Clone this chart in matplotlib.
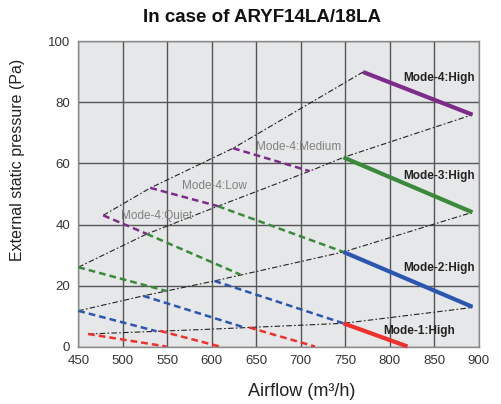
import matplotlib
matplotlib.use("Agg")
import matplotlib.pyplot as plt

plt.rcParams["font.family"] = ["Liberation Sans", "DejaVu Sans"]

# fan curves, (airflow, pressure) end points
mode4_high_q = [770, 893]
mode4_high_p = [90, 76]
mode3_high_q = [748, 893]
mode3_high_p = [62, 44]
mode2_high_q = [748, 893]
mode2_high_p = [31, 13]
mode1_high_q = [748, 820]
mode1_high_p = [7.6, 0]

mode4_quiet_q = [478, 527]
mode4_quiet_p = [43, 36.9]
mode4_low_q = [531, 607]
mode4_low_p = [52, 46]
mode4_medium_q = [624, 710]
mode4_medium_p = [65, 57.5]

mode3_quiet_q = [450, 549]
mode3_quiet_p = [26, 18.2]
mode3_low_q = [527, 632]
mode3_low_p = [36.9, 23.6]
mode3_medium_q = [607, 748]
mode3_medium_p = [46, 31]

mode2_quiet_q = [450, 538]
mode2_quiet_p = [11.7, 5.0]
mode2_low_q = [523, 637]
mode2_low_p = [16.6, 6.2]
mode2_medium_q = [603, 748]
mode2_medium_p = [21.5, 7.6]

mode1_quiet_q = [461, 549]
mode1_quiet_p = [4.1, 0]
mode1_low_q = [542, 609]
mode1_low_p = [5.1, 0]
mode1_medium_q = [642, 716]
mode1_medium_p = [6.25, 0]

# black boundary lines
bound_a_q = [478, 531, 624, 770]
bound_a_p = [43, 52, 65, 90]
bound_b_q = [450, 527, 607, 710, 748, 893]
bound_b_p = [26, 36.9, 46, 57.5, 62, 76]
bound_c_q = [450, 523, 603, 748, 893]
bound_c_p = [11.7, 16.6, 21.5, 31, 44]
bound_d_q = [461, 592, 748, 893]
bound_d_p = [4.1, 5.6, 7.6, 12.8]

x_ticks = [450, 500, 550, 600, 650, 700, 750, 800, 850, 900]
y_ticks = [0, 20, 40, 60, 80, 100]

purple = "#7e2b8c"
green = "#3b8a3c"
blue = "#2b57b2"
red = "#f0302c"

fig = plt.figure(figsize=(5.01, 4.04), dpi=100)
ax = fig.add_axes([0.1563, 0.1423, 0.7992, 0.755])
ax.set_facecolor("#e6e7e8")

ax.set_xlim(450, 900)
ax.set_ylim(0, 100)
ax.set_xticks(x_ticks)
ax.set_yticks(y_ticks)
ax.grid(True, color="#555555", lw=1.0, zorder=0)
ax.set_axisbelow(True)
ax.tick_params(length=0, pad=6, labelsize=9.5, colors="#333333")
for s in ax.spines.values():
	s.set_color("#8a8a8a")
	s.set_linewidth(1.0)

blk = dict(color="#222222", lw=0.8, dashes=(5, 2, 1.5, 2), zorder=2)
for q, p in [(bound_a_q, bound_a_p), (bound_b_q, bound_b_p), (bound_c_q, bound_c_p), (bound_d_q, bound_d_p)]:
	ax.plot(q, p, **blk)

dsh = dict(lw=1.8, dashes=(2.7, 1.6), zorder=3)
ax.plot(mode4_quiet_q, mode4_quiet_p, color=purple, **dsh)
ax.plot(mode4_low_q, mode4_low_p, color=purple, **dsh)
ax.plot(mode4_medium_q, mode4_medium_p, color=purple, **dsh)
ax.plot(mode3_quiet_q, mode3_quiet_p, color=green, **dsh)
ax.plot(mode3_low_q, mode3_low_p, color=green, **dsh)
ax.plot(mode3_medium_q, mode3_medium_p, color=green, **dsh)
ax.plot(mode2_quiet_q, mode2_quiet_p, color=blue, **dsh)
ax.plot(mode2_low_q, mode2_low_p, color=blue, **dsh)
ax.plot(mode2_medium_q, mode2_medium_p, color=blue, **dsh)
ax.plot(mode1_quiet_q, mode1_quiet_p, color=red, **dsh)
ax.plot(mode1_low_q, mode1_low_p, color=red, **dsh)
ax.plot(mode1_medium_q, mode1_medium_p, color=red, **dsh)

sol = dict(lw=3.0, solid_capstyle="butt", zorder=4, clip_on=False)
ax.plot(mode4_high_q, mode4_high_p, color=purple, **sol)
ax.plot(mode3_high_q, mode3_high_p, color=green, **sol)
ax.plot(mode2_high_q, mode2_high_p, color=blue, **sol)
ax.plot(mode1_high_q, mode1_high_p, color=red, **sol)

bold_lbl = dict(fontsize=8.5, fontweight="bold", color="#222222", ha="center", va="center", zorder=5)
ax.text(855, 88, "Mode-4:High", **bold_lbl)
ax.text(855, 56, "Mode-3:High", **bold_lbl)
ax.text(855, 25.9, "Mode-2:High", **bold_lbl)
ax.text(833, 5.2, "Mode-1:High", **bold_lbl)

gray_lbl = dict(fontsize=8.5, color="#808080", ha="center", va="center", zorder=5)
ax.text(697.6, 65.5, "Mode-4:Medium", **gray_lbl)
ax.text(603.4, 52.7, "Mode-4:Low", **gray_lbl)
ax.text(538, 42.9, "Mode-4:Quiet", **gray_lbl)

ax.set_xlabel("Airflow (m³/h)", fontsize=13, color="#222222")
ax.xaxis.set_label_coords(0.559, -0.149)
ax.xaxis.label.set_va("center")
ax.set_ylabel("External static pressure (Pa)", fontsize=11.5, color="#222222")
ax.yaxis.set_label_coords(-0.151, 0.611)
ax.yaxis.label.set_va("center")

fig.text(262 / 501, 1 - 18 / 404, "In case of ARYF14LA/18LA", fontsize=13.5, fontweight="bold",
	ha="center", va="center", color="#111111")

fig.savefig("out.png", dpi=100)
